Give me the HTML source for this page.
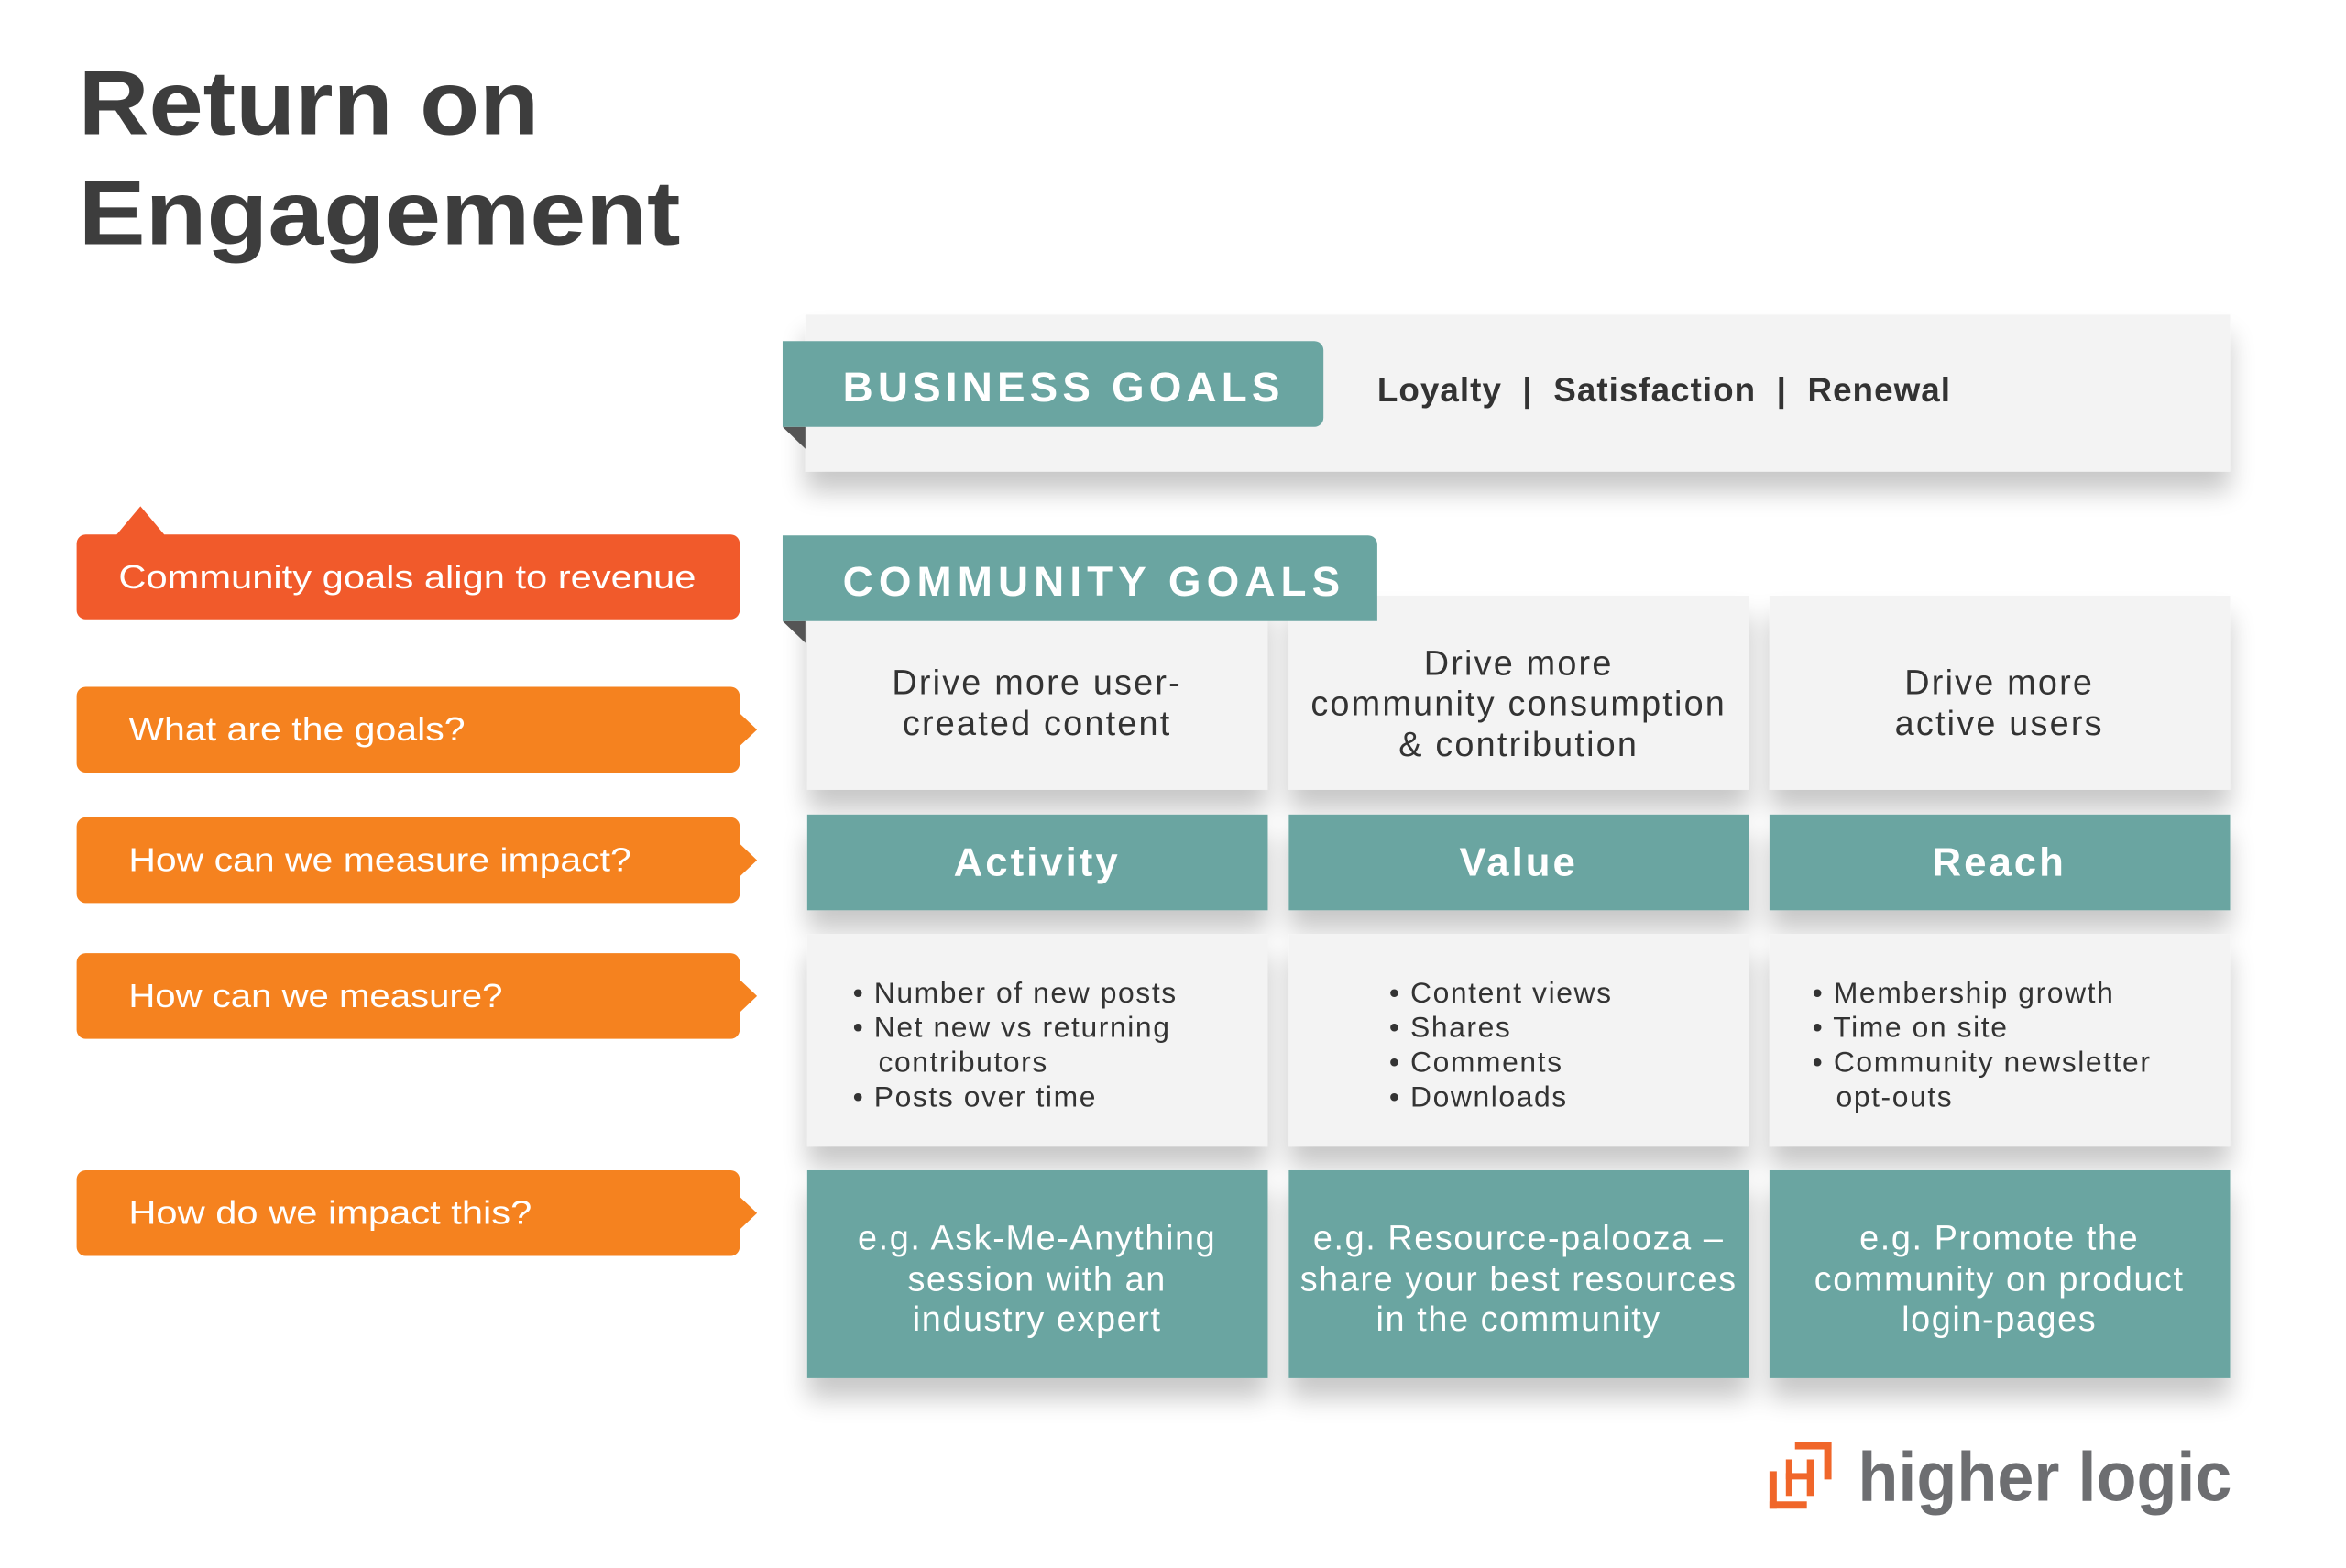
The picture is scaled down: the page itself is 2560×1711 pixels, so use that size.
<!DOCTYPE html>
<html><head><meta charset="utf-8"><style>html,body{margin:0;padding:0;background:#fff}svg{display:block}</style></head>
<body>
<svg width="2560" height="1711" viewBox="0 0 2560 1711" xmlns="http://www.w3.org/2000/svg" font-family="Liberation Sans, sans-serif">
<defs>
<filter id="sh" x="-10%" y="-20%" width="120%" height="160%">
<feGaussianBlur in="SourceAlpha" stdDeviation="14"/>
<feOffset dx="0" dy="22" result="b"/>
<feComponentTransfer><feFuncA type="linear" slope="0.22"/></feComponentTransfer>
<feMerge><feMergeNode/><feMergeNode in="SourceGraphic"/></feMerge>
</filter>
</defs>
<rect width="2560" height="1711" fill="#fff"/>
<g transform="scale(0.9953)">
<!-- Title -->
<g fill="#3d3d3d" font-weight="bold" font-size="100">
<text x="86" y="147" textLength="505" lengthAdjust="spacingAndGlyphs">Return on</text>
<text x="86" y="268" textLength="660" lengthAdjust="spacingAndGlyphs">Engagement</text>
</g>
<!-- Business goals panel -->
<rect x="883" y="345" width="1562" height="172" fill="#f3f3f3" filter="url(#sh)"/>
<polygon points="858,468 883,468 883,492" fill="#555"/>
<path d="M858,374 H1441 a10,10 0 0 1 10,10 V458 a10,10 0 0 1 -10,10 H858 Z" fill="#6aa5a1"/>
<text x="924" y="440" fill="#fff" font-weight="bold" font-size="46" textLength="479" lengthAdjust="spacing">BUSINESS GOALS</text>
<text x="1510" y="440" fill="#333" font-weight="bold" font-size="37" textLength="628" lengthAdjust="spacing" xml:space="preserve">Loyalty  |  Satisfaction  |  Renewal</text>
<!-- Cells -->
<g filter="url(#sh)">
<rect x="885" y="653" width="505" height="213" fill="#f3f3f3"/>
<rect x="1413" y="653" width="505" height="213" fill="#f3f3f3"/>
<rect x="1940" y="653" width="505" height="213" fill="#f3f3f3"/>
<rect x="885" y="893" width="505" height="105" fill="#6aa5a1"/>
<rect x="1413" y="893" width="505" height="105" fill="#6aa5a1"/>
<rect x="1940" y="893" width="505" height="105" fill="#6aa5a1"/>
<rect x="885" y="1024" width="505" height="233" fill="#f3f3f3"/>
<rect x="1413" y="1024" width="505" height="233" fill="#f3f3f3"/>
<rect x="1940" y="1024" width="505" height="233" fill="#f3f3f3"/>
<rect x="885" y="1283" width="505" height="228" fill="#6aa5a1"/>
<rect x="1413" y="1283" width="505" height="228" fill="#6aa5a1"/>
<rect x="1940" y="1283" width="505" height="228" fill="#6aa5a1"/>
</g>
<!-- Community goals tab -->
<polygon points="858,681 883,681 883,705" fill="#555"/>
<path d="M858,587 H1500 a10,10 0 0 1 10,10 V681 H858 Z" fill="#6aa5a1"/>
<text x="924" y="653" fill="#fff" font-weight="bold" font-size="46" textLength="545" lengthAdjust="spacing">COMMUNITY GOALS</text>
<!-- goals text -->
<g fill="#333" font-size="38" text-anchor="middle" letter-spacing="2.2">
<text x="1137" y="761">Drive more user-</text>
<text x="1137" y="806">created content</text>
<text x="1665" y="740">Drive more</text>
<text x="1665" y="784">community consumption</text>
<text x="1665" y="829">&amp; contribution</text>
<text x="2192" y="761">Drive more</text>
<text x="2192" y="806">active users</text>
</g>
<g fill="#fff" font-weight="bold" font-size="44" text-anchor="middle" letter-spacing="3">
<text x="1137" y="960">Activity</text>
<text x="1665" y="960">Value</text>
<text x="2192" y="960">Reach</text>
</g>
<g fill="#333" font-size="32" letter-spacing="1.6">
<text x="935" y="1099">• Number of new posts</text>
<text x="935" y="1137">• Net new vs returning</text>
<text x="963" y="1175">contributors</text>
<text x="935" y="1213">• Posts over time</text>
<text x="1523" y="1099">• Content views</text>
<text x="1523" y="1137">• Shares</text>
<text x="1523" y="1175">• Comments</text>
<text x="1523" y="1213">• Downloads</text>
<text x="1987" y="1099">• Membership growth</text>
<text x="1987" y="1137">• Time on site</text>
<text x="1987" y="1175">• Community newsletter</text>
<text x="2013" y="1213">opt-outs</text>
</g>
<g fill="#fff" font-size="38" text-anchor="middle" letter-spacing="1.6">
<text x="1137" y="1370">e.g. Ask-Me-Anything</text>
<text x="1137" y="1415">session with an</text>
<text x="1137" y="1459">industry expert</text>
<text x="1665" y="1370">e.g. Resource-palooza –</text>
<text x="1665" y="1415">share your best resources</text>
<text x="1665" y="1459">in the community</text>
<text x="2192" y="1370">e.g. Promote the</text>
<text x="2192" y="1415">community on product</text>
<text x="2192" y="1459">login-pages</text>
</g>
<!-- Left labels -->
<path d="M84,596 a10,10 0 0 1 10,-10 H128 L154,555 L180,586 H801 a10,10 0 0 1 10,10 V669 a10,10 0 0 1 -10,10 H94 a10,10 0 0 1 -10,-10 Z" fill="#f15a2b"/>
<text x="130" y="645" fill="#fff" font-size="36" textLength="633" lengthAdjust="spacingAndGlyphs">Community goals align to revenue</text>
<g fill="#f5821f">
<path d="M84,763 a10,10 0 0 1 10,-10 H801 a10,10 0 0 1 10,10 V782 L830,800 L811,818 V837 a10,10 0 0 1 -10,10 H94 a10,10 0 0 1 -10,-10 Z"/>
<path d="M84,906 a10,10 0 0 1 10,-10 H801 a10,10 0 0 1 10,10 V925 L830,943 L811,961 V980 a10,10 0 0 1 -10,10 H94 a10,10 0 0 1 -10,-10 Z"/>
<path d="M84,1055 a10,10 0 0 1 10,-10 H801 a10,10 0 0 1 10,10 V1074 L830,1092 L811,1110 V1129 a10,10 0 0 1 -10,10 H94 a10,10 0 0 1 -10,-10 Z"/>
<path d="M84,1293 a10,10 0 0 1 10,-10 H801 a10,10 0 0 1 10,10 V1312 L830,1330 L811,1348 V1367 a10,10 0 0 1 -10,10 H94 a10,10 0 0 1 -10,-10 Z"/>
</g>
<g fill="#fff" font-size="36">
<text x="141" y="812" textLength="369" lengthAdjust="spacingAndGlyphs">What are the goals?</text>
<text x="141" y="955" textLength="551" lengthAdjust="spacingAndGlyphs">How can we measure impact?</text>
<text x="141" y="1104" textLength="410" lengthAdjust="spacingAndGlyphs">How can we measure?</text>
<text x="141" y="1342" textLength="442" lengthAdjust="spacingAndGlyphs">How do we impact this?</text>
</g>
<!-- Logo -->
<g fill="#f0662a" transform="translate(11,8)">
<rect x="1957" y="1573" width="40" height="8"/>
<rect x="1989" y="1573" width="8" height="41"/>
<rect x="1929" y="1605" width="8" height="41"/>
<rect x="1929" y="1638" width="41" height="8"/>
<rect x="1947" y="1592" width="7" height="40"/>
<rect x="1970" y="1592" width="8" height="40"/>
<rect x="1947" y="1607" width="31" height="7"/>
</g>
<text x="2037" y="1645" fill="#6d6e71" font-weight="bold" font-size="76" textLength="410" lengthAdjust="spacingAndGlyphs">higher logic</text>
</g>
</svg>
</body></html>
